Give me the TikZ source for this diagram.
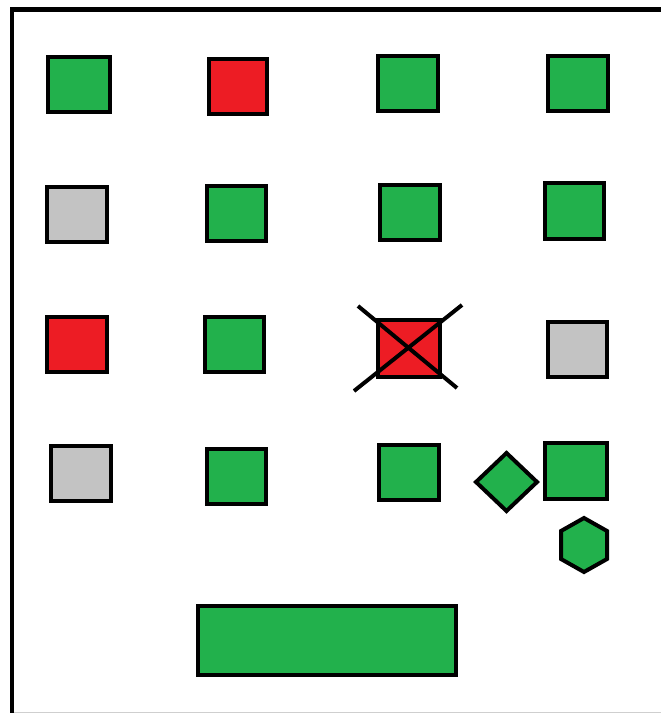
\documentclass[tikz,border=0pt]{standalone}
\usepackage{tikz}

\definecolor{boxgreen}{RGB}{34,177,76}
\definecolor{boxred}{RGB}{237,28,36}
\definecolor{boxgray}{RGB}{195,195,195}

\begin{document}
\begin{tikzpicture}[x=0.03cm,y=-0.03cm,line width=3.4pt,
  ok/.style={fill=boxgreen,draw=black},
  bad/.style={fill=boxred,draw=black},
  idle/.style={fill=boxgray,draw=black}]
\useasboundingbox (0,0) rectangle (661,713);
% frame
\draw[line width=4.2pt] (12,713) -- (12,9.5) -- (661,9.5);
\draw[line width=0.8pt,draw=boxgray!80] (14,712) -- (661,712);
% row 1
\draw[ok] (48,57) rectangle (110,112);
\draw[bad] (209,59) rectangle (267,114);
\draw[ok] (378,56) rectangle (438,111);
\draw[ok] (548,56) rectangle (608,111);
% row 2
\draw[idle] (47,187) rectangle (107,242);
\draw[ok] (207,186) rectangle (266,241);
\draw[ok] (380,185) rectangle (440,240);
\draw[ok] (545,183) rectangle (604,239);
% row 3
\draw[bad] (47,317) rectangle (107,372);
\draw[ok] (205,317) rectangle (264,372);
\draw[bad] (378,320) rectangle (440,377);
\draw (358,306) -- (457,388);
\draw (462,305) -- (354,391);
\draw[idle] (548,322) rectangle (607,377);
% row 4
\draw[idle] (51,446) rectangle (111,501);
\draw[ok] (207,449) rectangle (266,504);
\draw[ok] (379,445) rectangle (439,500);
\draw[ok] (506.5,453) -- (537,482) -- (506.5,511) -- (476,482) -- cycle;
\draw[ok] (545,443) rectangle (607,499);
\draw[ok] (584,518) -- (607,531) -- (607,559) -- (584,572) -- (561,559) -- (561,531) -- cycle;
% bottom bar
\draw[ok] (198,606) rectangle (456,675);
\end{tikzpicture}
\end{document}
